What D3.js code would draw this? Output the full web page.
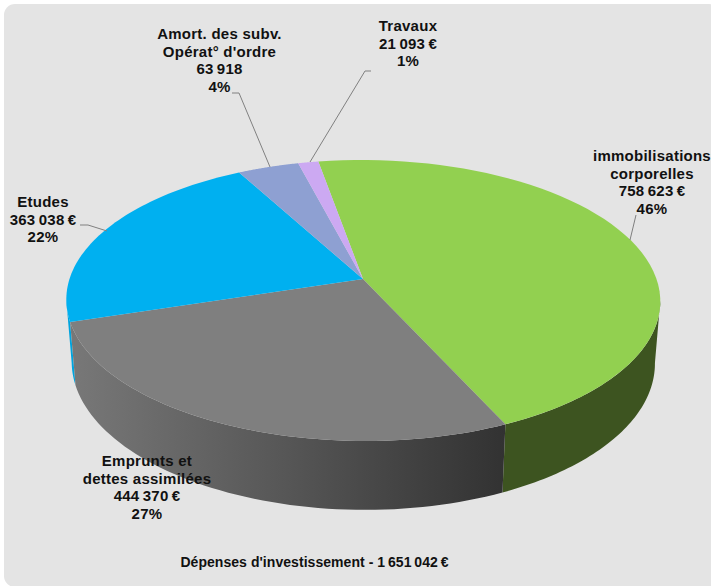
<!DOCTYPE html>
<html><head><meta charset="utf-8">
<script src="https://cdnjs.cloudflare.com/ajax/libs/d3/7.8.5/d3.min.js"></script>
<style>html,body{margin:0;padding:0;background:#fff;overflow:hidden}svg{display:block}</style>
</head><body><svg id="c" width="711" height="586"></svg>
<script>
const categories = ["immobilisations corporelles","Emprunts et dettes assimilées","Etudes","Amort. des subv. Opérat° d'ordre","Travaux"];
const values = [758623,444370,363038,63918,21093];
const valueLabels = ["758 623 €","444 370 €","363 038 €","63 918","21 093 €"];
const percentLabels = ["46%","27%","22%","4%","1%"];
const nameLines = [["immobilisations","corporelles"],["Emprunts et","dettes assimilées"],["Etudes"],["Amort. des subv.","Opérat° d'ordre"],["Travaux"]];
const title = "Dépenses d'investissement - 1 651 042 €";
const topColors = ["#92d050","#7f7f7f","#00b0f0","#8ea0d2","#cca9f2"];

// layout (not data)
const labelAnchors = [[652,161],[147,466],[43,207],[219.5,39],[408,31]];
const leaders = [[[636,215],[630,240]],null,[[80,225],[88,225],[107,231]],[[232,93],[239,93],[270,167]],[[371,71],[365,71],[310,162]]];
const startAngle = -9.7*Math.PI/180;
const cx=363, cy=279, R=293.5, S=137.2, K=0.153, H=62.5, M=0.018, SH=2;

const svg = d3.select("#c");
const defs = svg.append("defs");
const grad = defs.append("linearGradient").attr("id","g").attr("gradientUnits","userSpaceOnUse")
  .attr("x1",70).attr("x2",505).attr("y1",0).attr("y2",0);
grad.append("stop").attr("offset",0).attr("stop-color","#787878");
grad.append("stop").attr("offset",0.5).attr("stop-color","#565656");
grad.append("stop").attr("offset",1).attr("stop-color","#323232");

svg.append("rect").attr("x",4).attr("y",4).attr("width",716).attr("height",583).attr("rx",11).attr("fill","#e4e4e4");

const arcs = d3.pie().sort(null).startAngle(startAngle).endAngle(startAngle+2*Math.PI)(values);

function projTop(a){const u=Math.sin(a),v=-Math.cos(a),d=1-K*v;return [cx+(R*u+SH*v)/d,cy+S*v/d];}
function projBot(a){const u=Math.sin(a),v=-Math.cos(a),d=1-K*v+M;return [cx+(R*u+SH*v)/d,cy+(S*v+H)/d];}
function samples(a0,a1){return d3.range(0,61).map(i=>a0+(a1-a0)*i/60);}
const line=d3.line();

// side walls: only the rim that faces the viewer, out to the silhouette
const rightLimb = Math.PI-Math.acos(K), leftLimb = Math.PI+Math.acos(K);
const sideColors = ["#3d5420","url(#g)","#00a4de"];
const sideRanges = [[rightLimb,arcs[0].endAngle],[arcs[1].startAngle,arcs[1].endAngle],[arcs[2].startAngle,Math.PI*2-rightLimb]];
[2,0,1].forEach(i=>{
  const r=sideRanges[i], s=samples(r[0],r[1]);
  svg.append("path").attr("d",line(s.map(projTop).concat(s.slice().reverse().map(projBot)))+"Z")
    .attr("fill",sideColors[i]);
});

// top faces
arcs.forEach((d,i)=>{
  const pts=[[cx,cy]].concat(samples(d.startAngle,d.endAngle).map(projTop));
  svg.append("path").attr("d",line(pts)+"Z").attr("fill",topColors[i]);
});

// leaders
leaders.forEach(l=>{ if(l) svg.append("path").attr("d",line(l)).attr("fill","none").attr("stroke","#808080").attr("stroke-width",1);});

// labels
const txt=svg.append("g").attr("font-family","'Liberation Sans',Arial,sans-serif").attr("font-weight","bold").attr("fill","#111").attr("text-anchor","middle");
arcs.forEach((d,i)=>{
  const lines=nameLines[i].concat([valueLabels[i].replace(/ /g,"\u2009"),percentLabels[i]]);
  const t=txt.append("text").attr("font-size",15).attr("letter-spacing",0.25);
  lines.forEach((s,j)=>t.append("tspan").attr("x",labelAnchors[i][0]).attr("y",labelAnchors[i][1]+j*17.6).text(s));
});
txt.append("text").attr("x",314.5).attr("y",567).attr("font-size",14).attr("letter-spacing",0.05).text(title.replace(/(\d) (\d)/g,"$1\u2009$2").replace(/(\d) (\d)/g,"$1\u2009$2").replace(" €","\u2009€"));
</script></body></html>
